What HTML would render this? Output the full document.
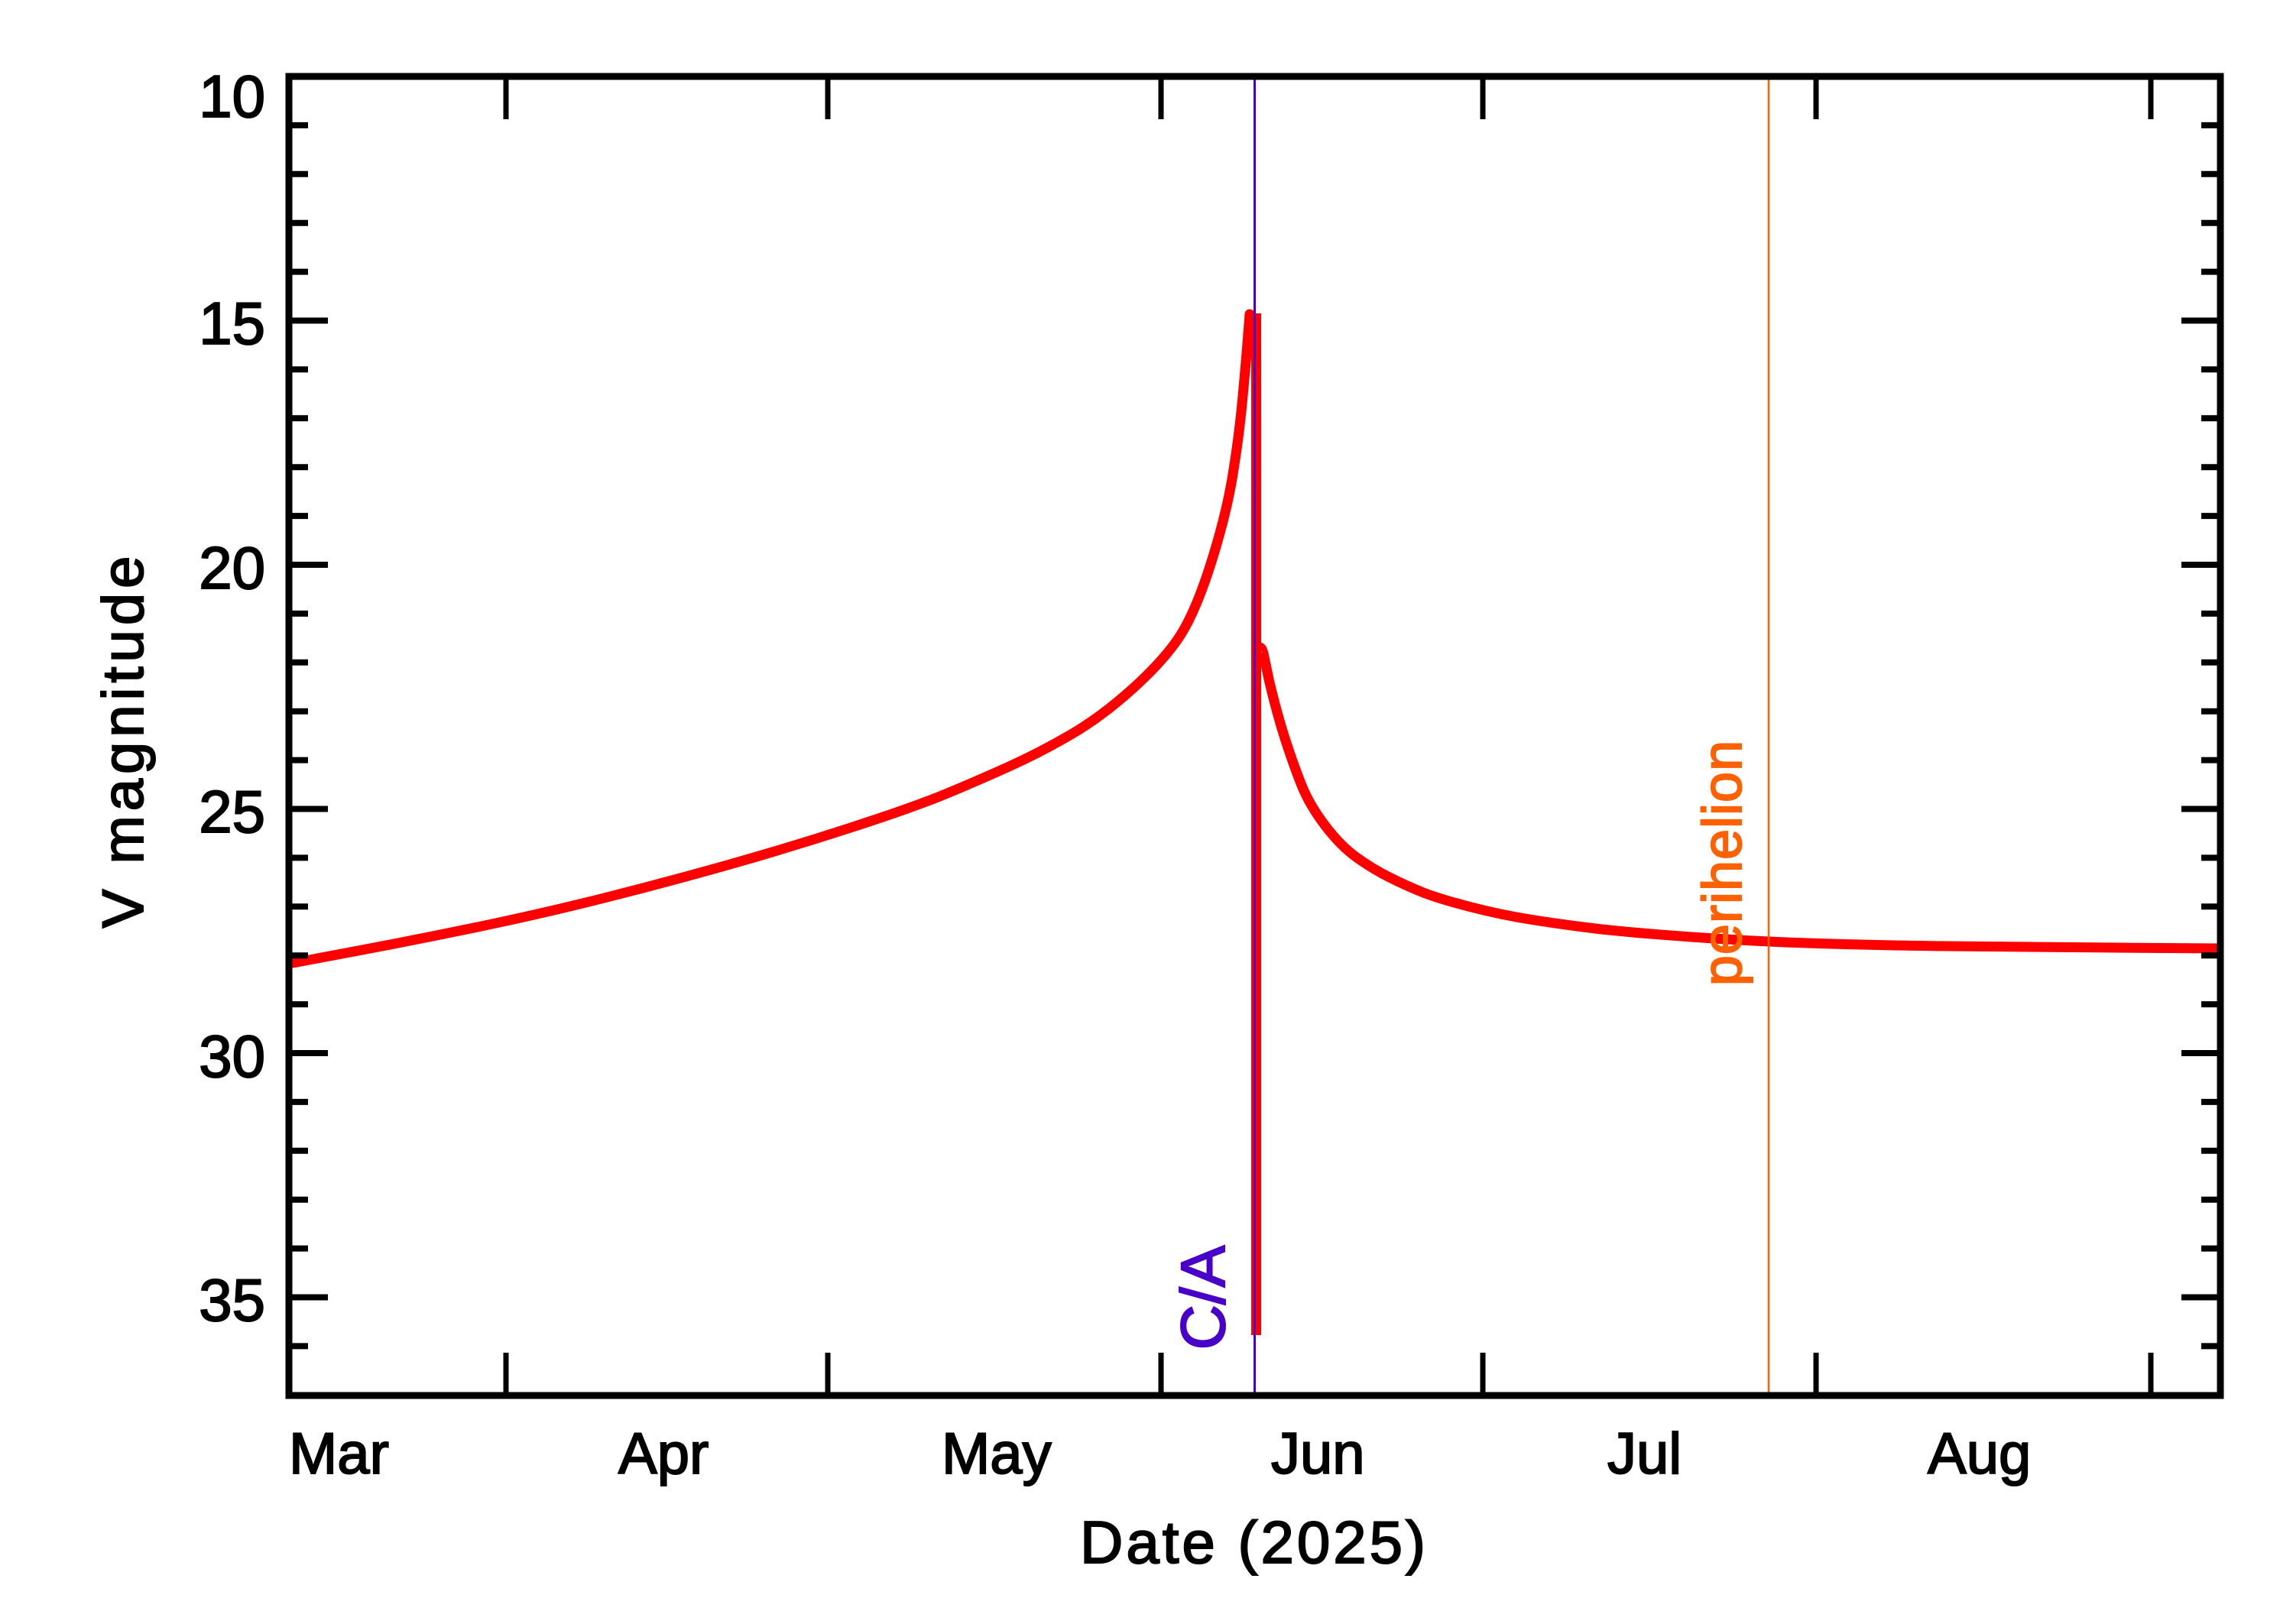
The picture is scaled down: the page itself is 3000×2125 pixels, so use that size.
<!DOCTYPE html>
<html><head><meta charset="utf-8"><style>
html,body{margin:0;padding:0;background:#fff;}
svg{display:block;}
text{font-family:"Liberation Sans",sans-serif;}
</style></head><body>
<svg width="3000" height="2125" viewBox="0 0 3000 2125" xmlns="http://www.w3.org/2000/svg">
<rect width="3000" height="2125" fill="#fff"/>
<path d="M378,1261 L460.5,1245.5 Q543,1230 625,1213 Q707,1196 788.5,1175.5 Q870,1155 951.5,1132 Q1033,1109 1114.5,1082.5 Q1196,1056 1237,1039 Q1278,1022 1319,1003.5 Q1360,985 1400.5,961.5 Q1441,938 1482,901 Q1523,864 1543.5,832.5 Q1564,801 1584,738 Q1604,675 1612.5,623.5 Q1621,572 1625.5,523.5 Q1630,475 1632.5,443 L1635,411 L1640,416"
 fill="none" stroke="#ff0000" stroke-width="13" stroke-linejoin="round"/>
<rect x="1637" y="410" width="13" height="1337" fill="#ff0000"/>
<path d="M1646,850 Q1650,843 1653,855 L1660.5,891 Q1671,935 1681.5,967.5 Q1692,1000 1702.5,1026.5 Q1713,1053 1733.5,1080 Q1754,1107 1775,1122 Q1796,1137 1817,1147.5 Q1838,1158 1858.5,1166.5 Q1879,1175 1921,1186 Q1963,1197 2004.5,1203.5 Q2046,1210 2087.5,1215 Q2129,1220 2212.5,1226 Q2296,1232 2379.5,1234.5 Q2463,1237 2546,1238 Q2629,1239 2767,1240 L2905,1241"
 fill="none" stroke="#ff0000" stroke-width="13" stroke-linejoin="round"/>
<line x1="1641.5" y1="100" x2="1641.5" y2="1826" stroke="#4800c8" stroke-width="3"/>
<line x1="2314" y1="100" x2="2314" y2="1826" stroke="#ff6000" stroke-width="2.5"/>
<rect x="378" y="100" width="2527" height="1726" fill="none" stroke="#000" stroke-width="9"/>
<g stroke="#000" stroke-width="7">
<line x1="662" y1="100" x2="662" y2="156"/><line x1="662" y1="1826" x2="662" y2="1770"/>
<line x1="1083" y1="100" x2="1083" y2="156"/><line x1="1083" y1="1826" x2="1083" y2="1770"/>
<line x1="1519" y1="100" x2="1519" y2="156"/><line x1="1519" y1="1826" x2="1519" y2="1770"/>
<line x1="1940" y1="100" x2="1940" y2="156"/><line x1="1940" y1="1826" x2="1940" y2="1770"/>
<line x1="2376" y1="100" x2="2376" y2="156"/><line x1="2376" y1="1826" x2="2376" y2="1770"/>
<line x1="2814" y1="100" x2="2814" y2="156"/><line x1="2814" y1="1826" x2="2814" y2="1770"/>
</g>
<path stroke="#000" stroke-width="8" fill="none" d="
M382,163.9h21M2901,163.9h-21
M382,227.8h21M2901,227.8h-21
M382,291.7h21M2901,291.7h-21
M382,355.6h21M2901,355.6h-21
M382,419.5h47M2901,419.5h-47
M382,483.4h21M2901,483.4h-21
M382,547.3h21M2901,547.3h-21
M382,611.2h21M2901,611.2h-21
M382,675.1h21M2901,675.1h-21
M382,739h47M2901,739h-47
M382,802.9h21M2901,802.9h-21
M382,866.8h21M2901,866.8h-21
M382,930.7h21M2901,930.7h-21
M382,994.6h21M2901,994.6h-21
M382,1058.5h47M2901,1058.5h-47
M382,1122.4h21M2901,1122.4h-21
M382,1186.3h21M2901,1186.3h-21
M382,1250.2h21M2901,1250.2h-21
M382,1314.1h21M2901,1314.1h-21
M382,1378h47M2901,1378h-47
M382,1441.9h21M2901,1441.9h-21
M382,1505.8h21M2901,1505.8h-21
M382,1569.7h21M2901,1569.7h-21
M382,1633.6h21M2901,1633.6h-21
M382,1697.5h47M2901,1697.5h-47
M382,1761.4h21M2901,1761.4h-21"/>
<g font-size="78" text-anchor="end" fill="#000" stroke="#000" stroke-width="2">
<text x="347" y="153">10</text>
<text x="347" y="450">15</text>
<text x="347" y="770">20</text>
<text x="347" y="1089">25</text>
<text x="347" y="1409">30</text>
<text x="347" y="1728">35</text>
</g>
<g font-size="76" fill="#000" stroke="#000" stroke-width="2">
<text x="378" y="1928">Mar</text>
<text x="809" y="1928">Apr</text>
<text x="1232" y="1928">May</text>
<text x="1663" y="1928">Jun</text>
<text x="2103" y="1928">Jul</text>
<text x="2522" y="1928">Aug</text>
</g>
<text x="1641" y="2045" font-size="78" text-anchor="middle" letter-spacing="4" stroke="#000" stroke-width="2">Date (2025)</text>
<text transform="translate(187,968) rotate(-90)" font-size="76" text-anchor="middle" letter-spacing="6" stroke="#000" stroke-width="2">V magnitude</text>
<text transform="translate(1602,1698) rotate(-90)" font-size="82" text-anchor="middle" fill="#4800c8" stroke="#4800c8" stroke-width="2">C/A</text>
<text transform="translate(2278,1129) rotate(-90)" font-size="72" text-anchor="middle" fill="#ff6000" stroke="#ff6000" stroke-width="2" letter-spacing="1">perihelion</text>
</svg>
</body></html>
